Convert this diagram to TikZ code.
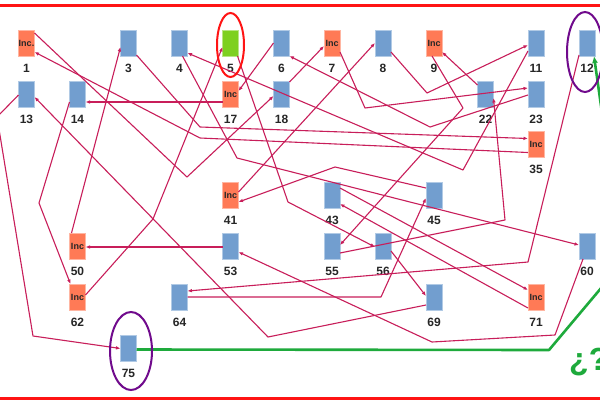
\documentclass[tikz,border=0pt]{standalone}
\usepackage{fontspec}
\setmainfont{Liberation Sans}
\usetikzlibrary{calc,arrows.meta}
\definecolor{bluebox}{RGB}{114,158,207}
\definecolor{orangebox}{RGB}{255,122,86}
\definecolor{greenbox}{RGB}{126,208,32}
\definecolor{conn}{RGB}{200,30,90}
\definecolor{purp}{RGB}{112,10,140}
\definecolor{grn}{RGB}{30,170,60}
\definecolor{frame}{RGB}{255,20,20}
\newcommand\mkbox[5]{\node[#4] (n#1) at (#2,#3) {#5}; \node[lab] (t#1) at (#2,#3+25) {#1};}
\begin{document}
\begin{tikzpicture}[x=1pt,y=-1pt,
  box/.style={rectangle, minimum width=16pt, minimum height=26pt, inner sep=0pt, line width=0.6pt},
  blu/.style={box, fill=bluebox, draw=bluebox!55!white},
  inc/.style={box, fill=orangebox, draw=orangebox!55!white, font=\fontsize{9}{9}\selectfont\bfseries, text=black!85},
  grb/.style={box, fill=greenbox, draw=greenbox!55!white},
  lab/.style={font=\fontsize{12}{12}\selectfont\bfseries, text=black!85, inner sep=0pt},
  con/.style={draw=conn, line width=1.1pt, -{Latex[length=4.5pt,width=3.6pt]}, line join=round},
  grl/.style={draw=grn, line width=2.6pt, -{Latex[length=7pt,width=6pt]}, line join=round},
  ell/.style={line width=2pt}]
\useasboundingbox (0,0) rectangle (600,400);
\clip (0,0) rectangle (600,400);
\fill[white] (0,0) rectangle (600,400);
% frame
\draw[frame, line width=2.5pt] (0,5.5) -- (600,5.5);
\draw[frame, line width=3pt] (0,398.5) -- (600,398.5);
% boxes
\mkbox{1}{26.5}{43}{inc}{Inc.}
\mkbox{3}{128.5}{43}{blu}{}
\mkbox{4}{179.5}{43}{blu}{}
\mkbox{5}{230.5}{43}{grb}{}
\mkbox{6}{281.5}{43}{blu}{}
\mkbox{7}{332}{43}{inc}{Inc}
\mkbox{8}{383}{43}{blu}{}
\mkbox{9}{434}{43}{inc}{Inc}
\mkbox{11}{536}{43}{blu}{}
\mkbox{12}{587}{43}{blu}{}
\mkbox{13}{26.5}{94}{blu}{}
\mkbox{14}{77.5}{94}{blu}{}
\mkbox{17}{230.5}{94}{inc}{Inc}
\mkbox{18}{281.5}{94}{blu}{}
\mkbox{22}{485.5}{94}{blu}{}
\mkbox{23}{536}{94}{blu}{}
\mkbox{35}{536}{144.5}{inc}{Inc}
\mkbox{41}{230.5}{195}{inc}{Inc}
\mkbox{43}{332}{195}{blu}{}
\mkbox{45}{434}{195}{blu}{}
\mkbox{50}{77.5}{246}{inc}{Inc}
\mkbox{53}{230.5}{246}{blu}{}
\mkbox{55}{332}{246}{blu}{}
\mkbox{56}{383}{246}{blu}{}
\mkbox{60}{587}{246}{blu}{}
\mkbox{62}{77.5}{297}{inc}{Inc}
\mkbox{64}{179.5}{297}{blu}{}
\mkbox{69}{434}{297}{blu}{}
\mkbox{71}{536}{297}{inc}{Inc}
\mkbox{75}{128.5}{348.5}{blu}{}
% connectors
\draw[con] ($(n1)+(8,-10)$) -- (187,177) -- ($(n18)+(-8,2)$);
\draw[con] ($(n35)+(-8,8)$) -- (200,138) -- ($(n1)+(8,9)$);
\draw[con] ($(n3)+(8,12)$) -- (200,127) -- ($(n35)+(-8,-6)$);
\draw[con] ($(n4)+(3,13)$) -- (237,158) -- ($(n60)+(-8,-1)$);
\draw[con] ($(n5)+(7,13)$) -- (288,202) -- ($(n56)+(-8,1)$);
\draw[con] ($(n6)+(-8,0)$) -- ($(n17)+(8,-3)$);
\draw[con] ($(n7)+(8,9)$) -- (365,108) -- ($(n23)+(-8,-6)$);
\draw[con] ($(n8)+(8,9)$) -- (427,93) -- ($(n11)+(-8,2)$);
\draw[con] ($(n9)+(-2,13)$) -- (463,108) -- ($(n55)+(8,-1)$);
\draw[con] ($(n11)+(-8,8)$) -- (463,170) -- ($(n4)+(8,10)$);
\draw[con] ($(n12)+(-8,12)$) -- (528,262) -- ($(n64)+(8,-6)$);
\draw[con] ($(n13)+(-8,1)$) -- (-3,117) -- (33,336) -- ($(n75)+(-8,0)$);
\draw[con] ($(n14)+(-8,8)$) -- (39,203) -- ($(n62)+(-7,-13)$);
\draw[con] ($(n17)+(-8,8)$) -- ($(n14)+(8,8)$);
\draw[con] ($(n18)+(8,-12)$) -- ($(n7)+(-8,3)$);
\draw[con] ($(n22)+(-8,-9)$) -- ($(n9)+(8,9)$);
\draw[con] ($(n23)+(-8,1)$) -- (430,127) -- ($(n6)+(8,13)$);
\draw[con] ($(n41)+(8,-3)$) -- ($(n8)+(-8,0)$);
\draw[con] ($(n45)+(-8,-7)$) -- (335,167) -- ($(n41)+(8,7)$);
\draw[con] ($(n43)+(8,-7)$) -- ($(n71)+(-8,-7)$);
\draw[con] ($(n71)+(-8,11)$) -- ($(n43)+(8,9)$);
\draw[con] ($(n50)+(-6,-13)$) -- ($(n3)+(-8,4)$);
\draw[con] ($(n53)+(-8,1)$) -- ($(n50)+(8,1)$);
\draw[con] ($(n55)+(8,7)$) -- (505,220) -- ($(n22)+(8,4)$);
\draw[con] ($(n56)+(8,5)$) -- ($(n69)+(-8,-1)$);
\draw[con] ($(n60)+(-4,13)$) -- (555,335) -- (432,342) -- ($(n53)+(8,6)$);
\draw[con] ($(n62)+(8,-2)$) -- (153,219) -- ($(n5)+(-8,4)$);
\draw[con] ($(n64)+(8,0)$) -- (381,297) -- ($(n45)+(-8,3)$);
\draw[con] ($(n69)+(-8,8)$) -- (268,337) -- ($(n13)+(8,3)$);
% green path
\draw[grl] ($(n75)+(8,1)$) -- (549,350) -- (623,262) -- ($(n12)+(7,13)$);
% ellipses
\draw[ell, frame] (230.5,45) ellipse [x radius=13.5pt, y radius=32pt];
\draw[ell, purp] (585,52) ellipse [x radius=18pt, y radius=40pt];
\draw[ell, purp] (131,351) ellipse [x radius=21pt, y radius=39pt];
% question
\node[anchor=base west, inner sep=0pt, text=grn, font=\fontsize{32}{32}\selectfont\bfseries] (q) at (569,370) {¿?};
\end{tikzpicture}
\end{document}
